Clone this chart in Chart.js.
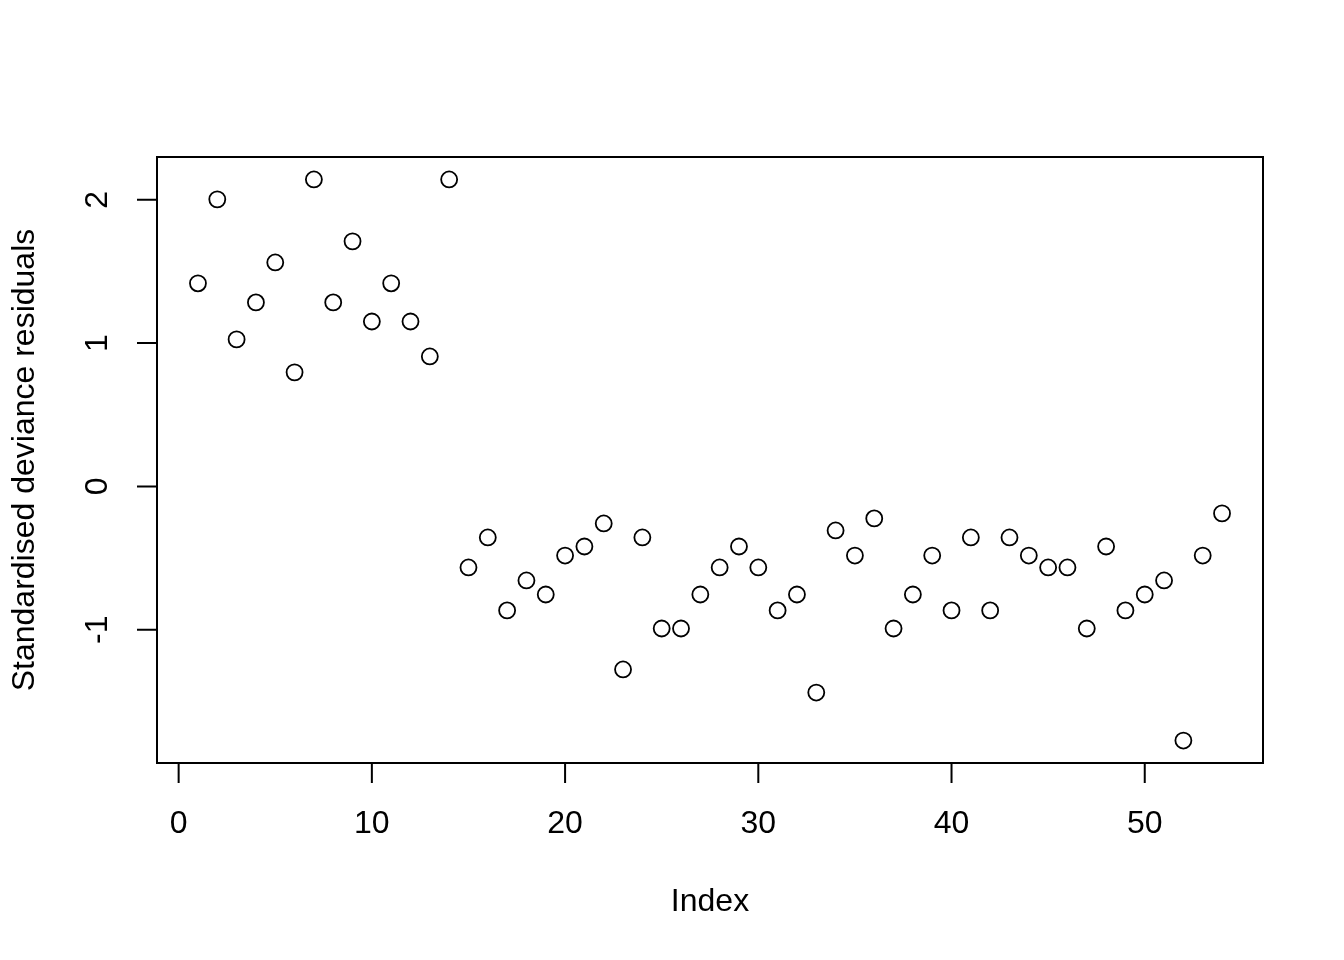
<!DOCTYPE html>
<html>
<head>
<meta charset="utf-8">
<style>
  html, body { margin: 0; padding: 0; background: #fff; }
  #wrap { width: 1344px; height: 960px; }
</style>
<script src="https://cdn.jsdelivr.net/npm/chart.js@4/dist/chart.umd.min.js"></script>
</head>
<body>
<div id="wrap"><canvas id="plot"></canvas></div>
<script>
// residuals, index 1..54
const residuals = [
  1.417, 2.003, 1.026, 1.284, 1.563, 0.796, 2.142, 1.284, 1.710, 1.151,
  1.417, 1.151, 0.907, 2.142, -0.565, -0.356, -0.865, -0.656, -0.754, -0.482,
  -0.419, -0.258, -1.277, -0.356, -0.991, -0.991, -0.754, -0.565, -0.419, -0.565,
  -0.865, -0.754, -1.438, -0.307, -0.482, -0.223, -0.991, -0.754, -0.482, -0.865,
  -0.356, -0.865, -0.356, -0.482, -0.565, -0.565, -0.991, -0.419, -0.865, -0.754,
  -0.656, -1.773, -0.482, -0.188
];
const xTicks = [0, 10, 20, 30, 40, 50];
const yTicks = [-1, 0, 1, 2];
const xTitle = "Index";
const yTitle = "Standardised deviance residuals";

const points = residuals.map((v, i) => ({ x: i + 1, y: v }));

// R-style range: data range padded by 4%
function pad(lo, hi) {
  const d = (hi - lo) * 0.04;
  return [lo - d, hi + d];
}
const [xmin, xmax] = pad(1, residuals.length);
const [ymin, ymax] = pad(Math.min(...residuals), Math.max(...residuals));

const FONT = '32px "Liberation Sans", Arial, sans-serif';

// box, ticks and labels like base R graphics
const rAxes = {
  id: 'rAxes',
  afterDraw(chart) {
    const { ctx, chartArea: a, scales } = chart;
    ctx.save();
    ctx.strokeStyle = '#000';
    ctx.fillStyle = '#000';
    ctx.lineWidth = 2;
    ctx.strokeRect(a.left, a.top, a.right - a.left, a.bottom - a.top);

    ctx.font = FONT;
    // x axis
    ctx.textAlign = 'center';
    ctx.textBaseline = 'middle';
    const x0 = scales.x.getPixelForValue(xTicks[0]);
    const x1 = scales.x.getPixelForValue(xTicks[xTicks.length - 1]);
    ctx.beginPath();
    ctx.moveTo(x0, a.bottom); ctx.lineTo(x1, a.bottom);
    xTicks.forEach(t => {
      const px = scales.x.getPixelForValue(t);
      ctx.moveTo(px, a.bottom); ctx.lineTo(px, a.bottom + 20);
    });
    ctx.stroke();
    xTicks.forEach(t => {
      ctx.fillText(String(t), scales.x.getPixelForValue(t), a.bottom + 61);
    });
    ctx.fillText(xTitle, (a.left + a.right) / 2, a.bottom + 139);

    // y axis
    const y0 = scales.y.getPixelForValue(yTicks[0]);
    const y1 = scales.y.getPixelForValue(yTicks[yTicks.length - 1]);
    ctx.beginPath();
    ctx.moveTo(a.left, y0); ctx.lineTo(a.left, y1);
    yTicks.forEach(t => {
      const py = scales.y.getPixelForValue(t);
      ctx.moveTo(a.left, py); ctx.lineTo(a.left - 20, py);
    });
    ctx.stroke();
    yTicks.forEach(t => {
      const py = scales.y.getPixelForValue(t);
      ctx.save();
      ctx.translate(a.left - 59, py);
      ctx.rotate(-Math.PI / 2);
      ctx.fillText(t < 0 ? '-' + Math.abs(t) : String(t), 0, 0);
      ctx.restore();
    });
    ctx.save();
    ctx.translate(a.left - 132, (a.top + a.bottom) / 2);
    ctx.rotate(-Math.PI / 2);
    ctx.fillText(yTitle, 0, 0);
    ctx.restore();
    ctx.restore();
  }
};

new Chart(document.getElementById('plot'), {
  type: 'scatter',
  data: {
    datasets: [{
      data: points,
      pointStyle: 'circle',
      pointRadius: 8,
      pointHoverRadius: 8,
      borderColor: '#000',
      backgroundColor: 'rgba(0,0,0,0)',
      borderWidth: 1.8
    }]
  },
  options: {
    responsive: true,
    maintainAspectRatio: false,
    animation: false,
    events: [],
    layout: { padding: { left: 157, top: 157, right: 81, bottom: 197 } },
    plugins: { legend: { display: false }, tooltip: { enabled: false } },
    scales: {
      x: { type: 'linear', min: xmin, max: xmax, display: false },
      y: { type: 'linear', min: ymin, max: ymax, display: false }
    }
  },
  plugins: [rAxes]
});
</script>
</body>
</html>
